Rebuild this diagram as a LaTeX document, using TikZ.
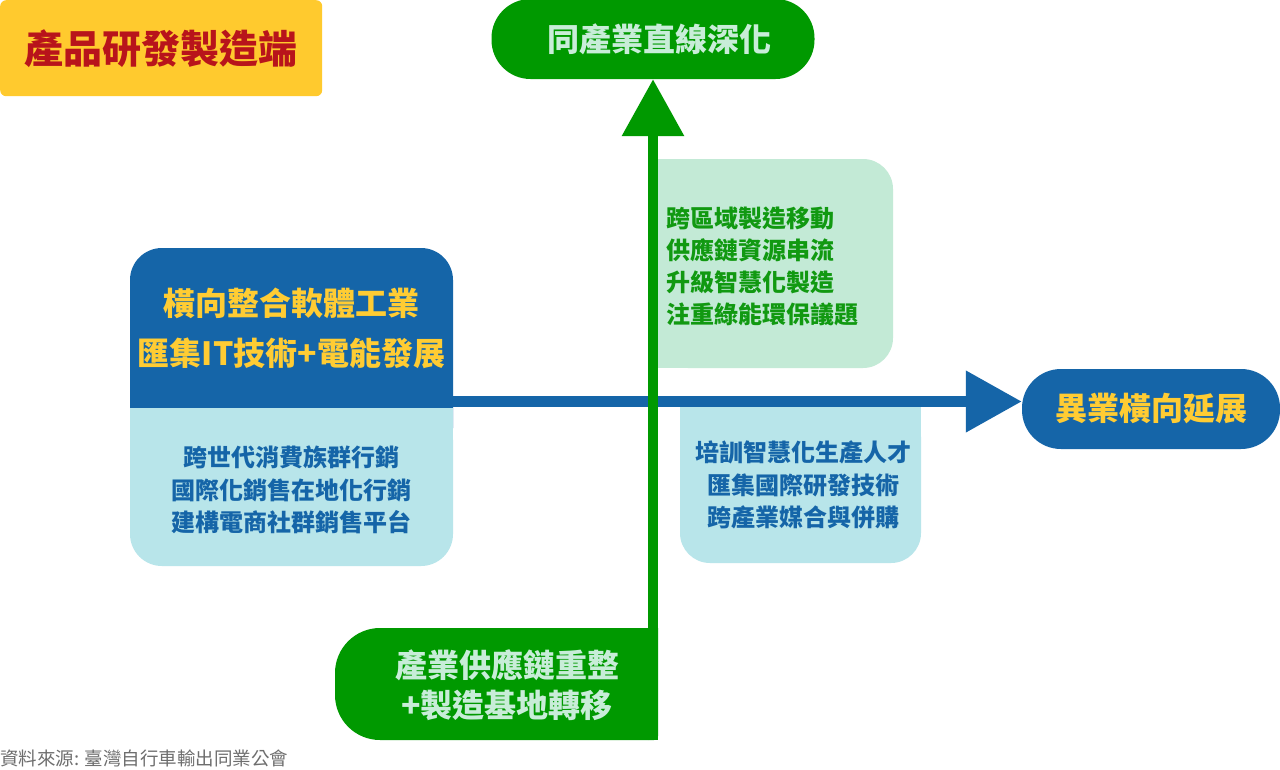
\documentclass[tikz,border=0pt]{standalone}
\usepackage{fontspec}
\setmainfont{Noto Sans CJK TC}
\usetikzlibrary{arrows.meta}
\definecolor{yel}{HTML}{FFCA2E}
\definecolor{titlered}{HTML}{B8141B}
\definecolor{gr}{HTML}{009900}
\definecolor{lgrtext}{HTML}{C8EDD8}
\definecolor{lgrbox}{HTML}{C3EAD6}
\definecolor{grtext}{HTML}{119911}
\definecolor{dblue}{HTML}{1565A8}
\definecolor{lblue}{HTML}{B8E5EA}
\definecolor{ytext}{HTML}{FFCC33}
\definecolor{srcgray}{HTML}{6E6E6E}
\begin{document}
\begin{tikzpicture}[x=1pt,y=-1pt,
  lbl/.style={inner sep=0pt, align=center},
  big/.style={font={\bfseries\fontsize{32}{50}\selectfont}},
  small/.style={font={\bfseries\fontsize{24}{32.5}\selectfont}},
  pill/.style={inner sep=0pt, rounded corners=39pt, minimum height=80pt, big},
  bluearrow/.style={draw=dblue, line width=11pt, -{Triangle[length=56pt,width=59pt]}},
  greenarrow/.style={draw=gr, line width=10pt, -{Triangle[length=57pt,width=60pt]}}]
\useasboundingbox (0,0) rectangle (1280,769);
\fill[white] (0,0) rectangle (1280,769);

% title box
\node[fill=yel, rounded corners=6pt, minimum width=322pt, minimum height=96pt, inner sep=0pt,
  anchor=north west, text=titlered, font={\bfseries\fontsize{39}{44}\selectfont}] (title) at (0,0) {產品研發製造端};

% left box
\fill[dblue, rounded corners=32pt] (130,248) rectangle (453,460);
\fill[lblue, rounded corners=32pt] (130,408) rectangle (453,566);
\fill[lblue] (130,408) rectangle (453,460);
\node[lbl, big, text=ytext] (integ) at (291.5,328) {橫向整合軟體工業\\匯集IT技術+電能發展};
\node[lbl, small, text=dblue] (mkt) at (291.5,490) {跨世代消費族群行銷\\國際化銷售在地化行銷\\建構電商社群銷售平台};

% upper right box
\fill[lgrbox, rounded corners=30pt] (658,159) rectangle (893,368);
\fill[lgrbox] (658,159) rectangle (720,368);
\node[lbl, small, align=left, anchor=west, text=grtext, font={\bfseries\fontsize{24}{32}\selectfont}] (mfg) at (666,266) {跨區域製造移動\\供應鏈資源串流\\升級智慧化製造\\注重綠能環保議題};

% lower right box
\fill[lblue, rounded corners=30pt] (680,407) rectangle (921,563);
\fill[lblue] (680,407) rectangle (921,460);
\node[lbl, small, text=dblue] (talent) at (803,485) {培訓智慧化生產人才\\匯集國際研發技術\\跨產業媒合與併購};

% pills
\node[pill, fill=gr, minimum width=323pt, text=lgrtext] (deep) at (653,39) {\hspace*{12pt}同產業直線深化};
\node[pill, fill=dblue, minimum width=258pt, text=ytext] (hpill) at (1151,409) {異業橫向延展};

% bottom pill
\fill[gr] (658,628) -- (380,628) arc[start angle=270, end angle=180, radius=45] -- (335,695)
  arc[start angle=180, end angle=90, radius=45] -- (654,740) -- (658,736) -- cycle;
\node[lbl, text=lgrtext, font={\bfseries\fontsize{32}{40}\selectfont}] (chain) at (507,685) {產業供應鏈重整\\+製造基地轉移};

% arrows
\coordinate (bstart) at (452,401.5);
\draw[bluearrow] (bstart) -- (bstart -| hpill.west);
\coordinate (gstart) at (653,740);
\draw[greenarrow] (gstart) -- (deep.south);

% source
\node[inner sep=0pt, anchor=west, text=srcgray, font={\fontsize{18.5}{22}\selectfont}] (src) at (0,758) {資料來源: 臺灣自行車輸出同業公會};
\end{tikzpicture}
\end{document}
